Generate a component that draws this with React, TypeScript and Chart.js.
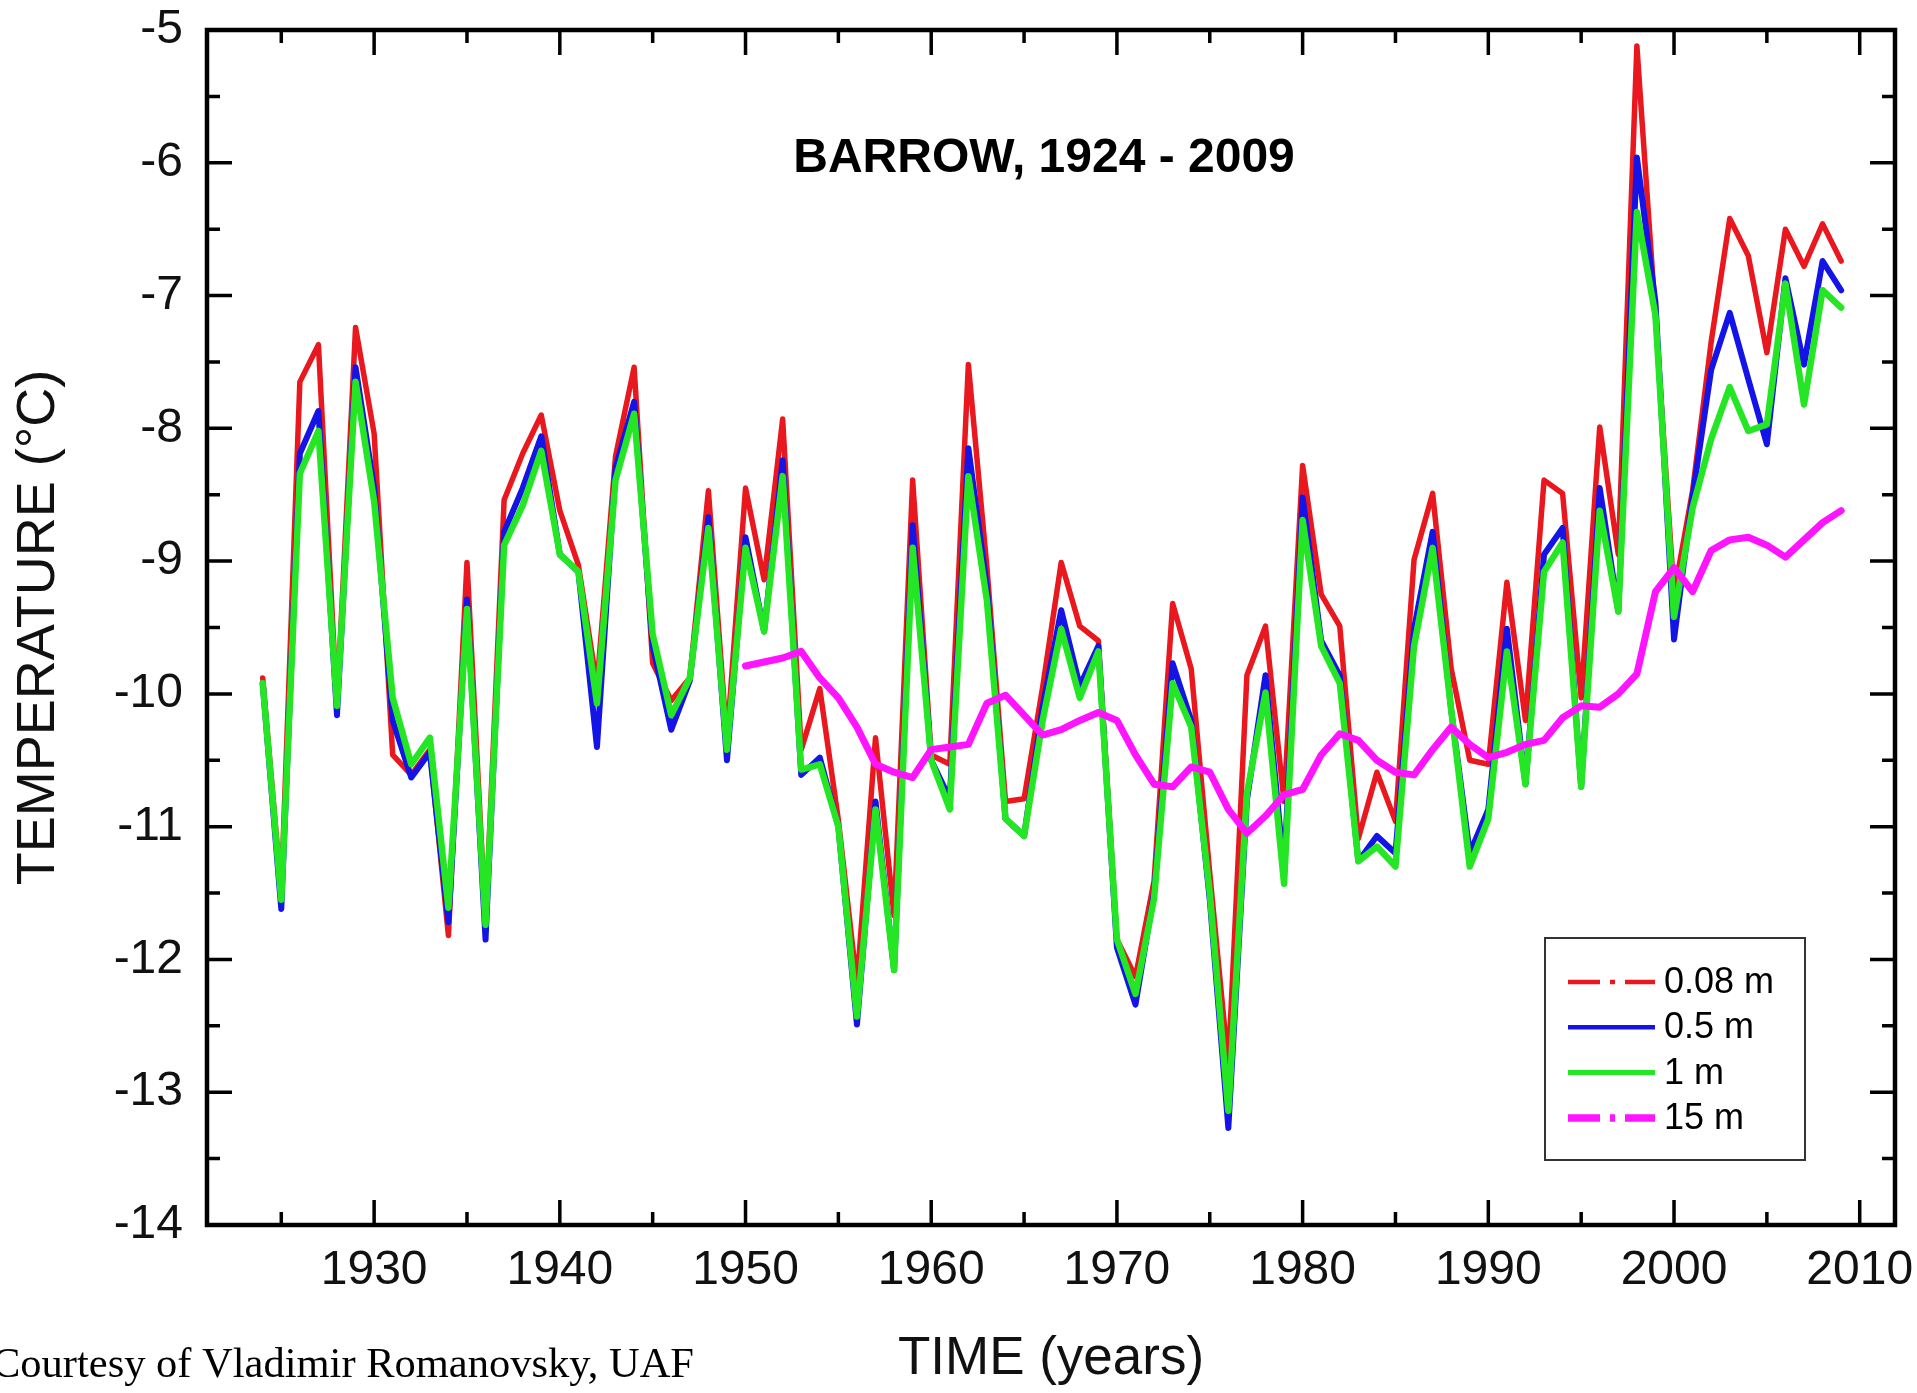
import React, { useEffect, useRef } from 'react';
import { Chart, registerables } from 'chart.js';

Chart.register(...registerables);

const YEARS = [
  1924, 1925, 1926, 1927, 1928, 1929, 1930, 1931, 1932, 1933,
  1934, 1935, 1936, 1937, 1938, 1939, 1940, 1941, 1942, 1943,
  1944, 1945, 1946, 1947, 1948, 1949, 1950, 1951, 1952, 1953,
  1954, 1955, 1956, 1957, 1958, 1959, 1960, 1961, 1962, 1963,
  1964, 1965, 1966, 1967, 1968, 1969, 1970, 1971, 1972, 1973,
  1974, 1975, 1976, 1977, 1978, 1979, 1980, 1981, 1982, 1983,
  1984, 1985, 1986, 1987, 1988, 1989, 1990, 1991, 1992, 1993,
  1994, 1995, 1996, 1997, 1998, 1999, 2000, 2001, 2002, 2003,
  2004, 2005, 2006, 2007, 2008, 2009,
];

const DEPTH_008 = [
  -9.88, -11.5, -7.65, -7.37, -10.1, -7.24, -8.04, -10.46, -10.61, -10.42,
  -11.82, -9.01, -11.72, -8.54, -8.19, -7.9, -8.62, -9.03, -9.94, -8.21,
  -7.54, -9.77, -10.05, -9.88, -8.47, -10.35, -8.45, -9.14, -7.93, -10.42,
  -9.96, -10.95, -12.19, -10.33, -11.67, -8.39, -10.46, -10.53, -7.52, -9.05,
  -10.81, -10.79, -9.95, -9.01, -9.49, -9.6, -11.85, -12.13, -11.41, -9.32,
  -9.81, -11.35, -12.8, -9.86, -9.49, -10.81, -8.28, -9.25, -9.49, -11.09,
  -10.59, -10.96, -8.99, -8.49, -9.81, -10.5, -10.53, -9.16, -10.2, -8.39,
  -8.49, -10.03, -7.99, -8.95, -5.12, -7.15, -9.25, -8.47, -7.35, -6.42,
  -6.7, -7.43, -6.5, -6.78, -6.46, -6.74,
];

const DEPTH_05 = [
  -9.92, -11.62, -8.19, -7.87, -10.16, -7.54, -8.45, -10.2, -10.63, -10.44,
  -11.72, -9.29, -11.85, -8.78, -8.45, -8.06, -8.95, -9.08, -10.4, -8.3,
  -7.8, -9.64, -10.27, -9.9, -8.67, -10.5, -8.82, -9.53, -8.24, -10.61,
  -10.48, -11.0, -12.49, -10.81, -12.08, -8.73, -10.5, -10.79, -8.15, -9.2,
  -10.94, -11.07, -10.1, -9.37, -9.94, -9.64, -11.91, -12.34, -11.5, -9.77,
  -10.2, -11.55, -13.27, -10.8, -9.86, -11.33, -8.52, -9.6, -9.86, -11.26,
  -11.07, -11.2, -9.51, -8.78, -10.12, -11.2, -10.87, -9.51, -10.68, -8.95,
  -8.75, -10.7, -8.45, -9.38, -5.96, -7.05, -9.59, -8.51, -7.56, -7.13,
  -7.63, -8.12, -6.87, -7.52, -6.74, -6.96,
];

const DEPTH_1 = [
  -9.92, -11.55, -8.34, -8.02, -10.09, -7.65, -8.55, -10.03, -10.53, -10.33,
  -11.61, -9.36, -11.74, -8.88, -8.58, -8.17, -8.95, -9.08, -10.07, -8.39,
  -7.89, -9.55, -10.16, -9.88, -8.75, -10.42, -8.9, -9.53, -8.36, -10.57,
  -10.53, -11.0, -12.43, -10.87, -12.08, -8.9, -10.5, -10.87, -8.36, -9.3,
  -10.94, -11.07, -10.2, -9.51, -10.03, -9.68, -11.85, -12.26, -11.54, -9.92,
  -10.25, -11.5, -13.14, -10.75, -9.99, -11.43, -8.69, -9.64, -9.92, -11.26,
  -11.15, -11.3, -9.64, -8.9, -10.12, -11.3, -10.94, -9.68, -10.68, -9.08,
  -8.86, -10.7, -8.62, -9.38, -6.37, -7.15, -9.42, -8.6, -8.08, -7.69,
  -8.02, -7.97, -6.91, -7.82, -6.96, -7.09,
];

const YEARS_15 = [
  1950, 1951, 1952, 1953, 1954, 1955, 1956, 1957, 1958, 1959,
  1960, 1961, 1962, 1963, 1964, 1965, 1966, 1967, 1968, 1969,
  1970, 1971, 1972, 1973, 1974, 1975, 1976, 1977, 1978, 1979,
  1980, 1981, 1982, 1983, 1984, 1985, 1986, 1987, 1988, 1989,
  1990, 1991, 1992, 1993, 1994, 1995, 1996, 1997, 1998, 1999,
  2000, 2001, 2002, 2003, 2004, 2005, 2006, 2007, 2008, 2009,
];

const DEPTH_15 = [
  -9.79, -9.76, -9.73, -9.68, -9.88, -10.03, -10.25, -10.53, -10.59, -10.63,
  -10.42, -10.4, -10.38, -10.07, -10.01, -10.16, -10.31, -10.27, -10.2, -10.14,
  -10.2, -10.46, -10.68, -10.7, -10.55, -10.59, -10.87, -11.05, -10.92, -10.76,
  -10.72, -10.46, -10.3, -10.35, -10.5, -10.59, -10.61, -10.42, -10.25, -10.38,
  -10.48, -10.44, -10.38, -10.35, -10.18, -10.09, -10.1, -10.0, -9.85, -9.23,
  -9.05, -9.23, -8.92, -8.84, -8.82, -8.88, -8.97, -8.84, -8.71, -8.62,
];

const SERIES_LABELS = ['0.08 m', '0.5 m', '1 m', '15 m'];
const X_MAJOR_TICKS = [1930, 1940, 1950, 1960, 1970, 1980, 1990, 2000, 2010];
const X_MINOR_TICKS = [1925, 1935, 1945, 1955, 1965, 1975, 1985, 1995, 2005];
const Y_MAJOR_TICKS = [-14, -13, -12, -11, -10, -9, -8, -7, -6, -5];
const Y_MINOR_TICKS = [-13.5, -12.5, -11.5, -10.5, -9.5, -8.5, -7.5, -6.5, -5.5];
const CHART_TITLE = 'BARROW, 1924 - 2009';
const X_TITLE = 'TIME (years)';
const Y_TITLE = 'TEMPERATURE (°C)';
const CREDIT = 'Courtesy of Vladimir Romanovsky, UAF';

const RED = '#e8181e';
const BLUE = '#1414e6';
const GREEN = '#25e625';
const MAGENTA = '#ff14ff';
const SANS = "'Liberation Sans', Arial, Helvetica, sans-serif";
const SERIF = "'Liberation Serif', 'Times New Roman', serif";

const LEGEND_DASH: number[][] = [[32, 10, 5, 10], [], [], [32, 10, 5, 10]];
const LEGEND_WIDTH = [4.5, 4.5, 5, 7.5];

const framePlugin = {
  id: 'frameTicks',
  afterDraw(chart: any) {
    const { ctx, chartArea: ca, scales } = chart;
    const x = scales.x;
    const y = scales.y;
    const MAJ = 25;
    const MIN = 13;
    ctx.save();
    ctx.strokeStyle = '#000';
    ctx.lineWidth = 3.5;
    ctx.lineCap = 'butt';
    ctx.beginPath();
    const xt = (vals: number[], len: number) => {
      for (const v of vals) {
        const px = x.getPixelForValue(v);
        ctx.moveTo(px, ca.bottom);
        ctx.lineTo(px, ca.bottom - len);
        ctx.moveTo(px, ca.top);
        ctx.lineTo(px, ca.top + len);
      }
    };
    const yt = (vals: number[], len: number) => {
      for (const v of vals) {
        const py = y.getPixelForValue(v);
        ctx.moveTo(ca.left, py);
        ctx.lineTo(ca.left + len, py);
        ctx.moveTo(ca.right, py);
        ctx.lineTo(ca.right - len, py);
      }
    };
    xt(X_MAJOR_TICKS, MAJ);
    xt(X_MINOR_TICKS, MIN);
    yt(Y_MAJOR_TICKS, MAJ);
    yt(Y_MINOR_TICKS, MIN);
    ctx.stroke();
    ctx.lineWidth = 4.5;
    ctx.strokeRect(ca.left, ca.top, ca.right - ca.left, ca.bottom - ca.top);

    // chart title inside the plot
    ctx.fillStyle = '#000';
    ctx.font = `bold 48px ${SANS}`;
    ctx.textAlign = 'center';
    ctx.textBaseline = 'middle';
    ctx.fillText(CHART_TITLE, ca.left + 837, ca.top + 129);

    // credit line
    ctx.font = `42.5px ${SERIF}`;
    ctx.textAlign = 'left';
    ctx.fillText(CREDIT, -8, 1366);

    // legend box
    const bx0 = ca.right - 350;
    const by0 = ca.bottom - 287;
    const bw = 260;
    const bh = 222;
    ctx.fillStyle = '#fff';
    ctx.fillRect(bx0, by0, bw, bh);
    ctx.strokeStyle = '#333';
    ctx.lineWidth = 2;
    ctx.strokeRect(bx0, by0, bw, bh);
    const datasets = chart.data.datasets;
    ctx.font = `36px ${SANS}`;
    ctx.textBaseline = 'middle';
    datasets.forEach((ds: any, i: number) => {
      const ry = by0 + 44 + i * 45.3;
      ctx.save();
      ctx.strokeStyle = ds.borderColor;
      ctx.lineWidth = LEGEND_WIDTH[i];
      ctx.setLineDash(LEGEND_DASH[i]);
      ctx.lineCap = 'butt';
      ctx.beginPath();
      ctx.moveTo(bx0 + 23, ry);
      ctx.lineTo(bx0 + 110, ry);
      ctx.stroke();
      ctx.restore();
      ctx.fillStyle = '#000';
      ctx.fillText(ds.label, bx0 + 119, ry + 1);
    });
    ctx.restore();
  },
};

export default function App() {
  const ref = useRef<HTMLCanvasElement>(null);

  useEffect(() => {
    document.body.style.margin = '0';
    const canvas = ref.current;
    if (!canvas) return;
    const pts = (xs: number[], ys: number[]) => xs.map((v, i) => ({ x: v, y: ys[i] }));

    const chart = new Chart(canvas, {
      type: 'line',
      data: {
        datasets: [
          { label: SERIES_LABELS[0], data: pts(YEARS, DEPTH_008), borderColor: RED, backgroundColor: RED, borderWidth: 5.5, order: 4 },
          { label: SERIES_LABELS[1], data: pts(YEARS, DEPTH_05), borderColor: BLUE, backgroundColor: BLUE, borderWidth: 6, order: 3 },
          { label: SERIES_LABELS[2], data: pts(YEARS, DEPTH_1), borderColor: GREEN, backgroundColor: GREEN, borderWidth: 6.5, order: 2 },
          { label: SERIES_LABELS[3], data: pts(YEARS_15, DEPTH_15), borderColor: MAGENTA, backgroundColor: MAGENTA, borderWidth: 7, order: 1 },
        ],
      },
      options: {
        responsive: false,
        animation: false,
        events: [],
        layout: { padding: { left: 0, top: 30, right: 22, bottom: 0 } },
        elements: {
          point: { radius: 0, hoverRadius: 0 },
          line: { tension: 0, borderJoinStyle: 'round', borderCapStyle: 'round', fill: false },
        },
        plugins: {
          legend: { display: false },
          title: { display: false },
          tooltip: { enabled: false },
        },
        scales: {
          x: {
            type: 'linear',
            min: 1921,
            max: 2011.9,
            grid: { display: false, drawTicks: false },
            border: { display: false },
            ticks: {
              autoSkip: false,
              padding: 17,
              color: '#111',
              font: { family: SANS, size: 48 },
              callback: (v: any) => String(v),
            },
            title: {
              display: true,
              text: X_TITLE,
              color: '#111',
              font: { family: SANS, size: 53 },
              padding: { top: 0, bottom: 2 },
            },
            afterBuildTicks: (scale: any) => {
              scale.ticks = X_MAJOR_TICKS.map((v) => ({ value: v }));
            },
            afterFit: (scale: any) => {
              scale.height = 168;
              scale.paddingLeft = 0;
              scale.paddingRight = 0;
            },
          },
          y: {
            type: 'linear',
            min: -14,
            max: -5,
            grid: { display: false, drawTicks: false },
            border: { display: false },
            ticks: {
              padding: 24,
              color: '#111',
              font: { family: SANS, size: 48 },
              callback: (v: any) => String(v),
            },
            title: {
              display: true,
              text: Y_TITLE,
              color: '#111',
              font: { family: SANS, size: 54 },
              padding: { top: 7, bottom: 0 },
            },
            afterBuildTicks: (scale: any) => {
              scale.ticks = Y_MAJOR_TICKS.map((v) => ({ value: v }));
            },
            afterFit: (scale: any) => {
              scale.width = 207;
              scale.paddingTop = 0;
              scale.paddingBottom = 0;
            },
          },
        },
      } as any,
      plugins: [framePlugin],
    });

    return () => chart.destroy();
  }, []);

  return (
    <div style={{ position: 'absolute', left: 0, top: 0, width: 1917, height: 1393, background: '#fff' }}>
      <canvas ref={ref} width={1917} height={1393} style={{ display: 'block', width: 1917, height: 1393 }} />
    </div>
  );
}
